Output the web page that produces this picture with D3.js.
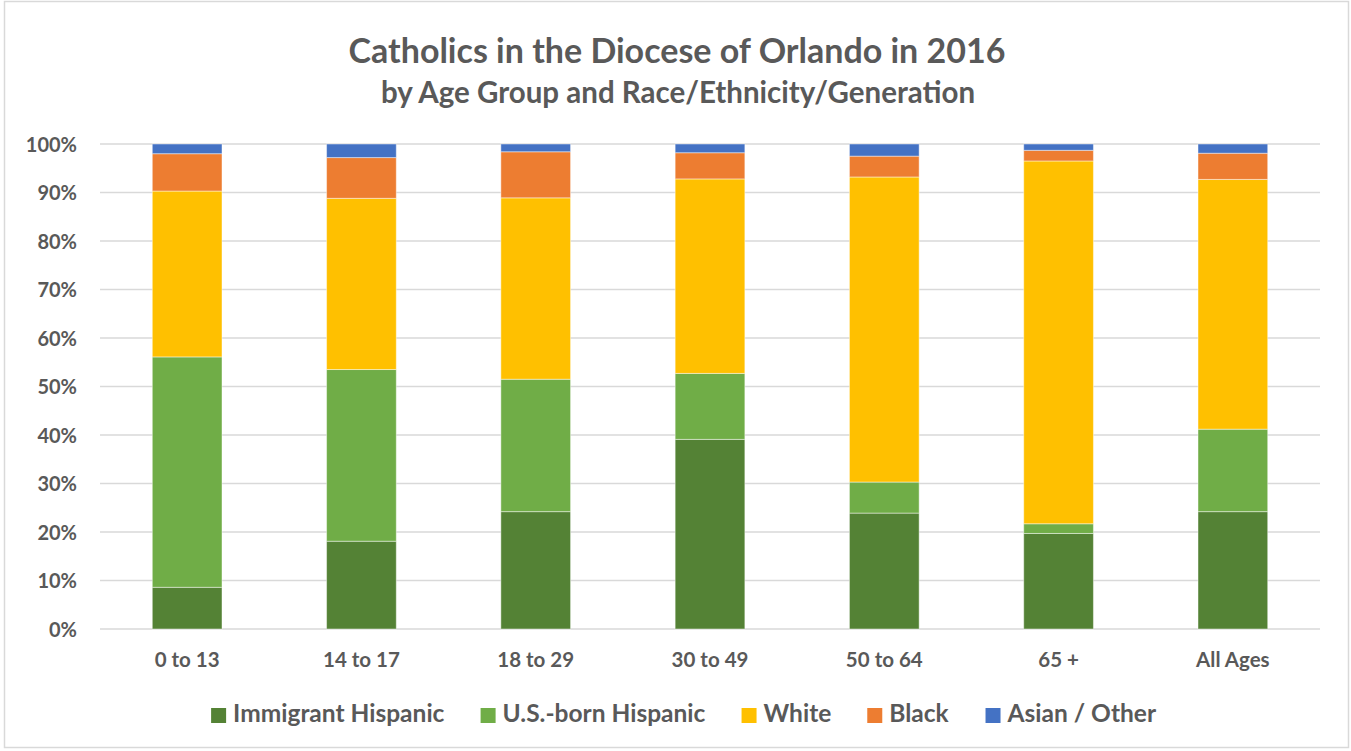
<!DOCTYPE html>
<html>
<head>
<meta charset="utf-8">
<script src="https://cdn.jsdelivr.net/npm/d3@7"></script>
<style>
  body { margin: 0; background: #fff; }
  text { font-family: Lato, "Open Sans", sans-serif; font-weight: bold; fill: #595959; }
</style>
</head>
<body>
<svg id="chart"></svg>
<script>
const ageGroups = ["0 to 13", "14 to 17", "18 to 29", "30 to 49", "50 to 64", "65 +", "All Ages"];
const seriesNames = ["Immigrant Hispanic", "U.S.-born Hispanic", "White", "Black", "Asian / Other"];
const immigrantHispanic = [8.6, 18.1, 24.2, 39.1, 23.9, 19.7, 24.2];
const usBornHispanic = [47.5, 35.4, 27.3, 13.6, 6.4, 2.0, 17.0];
const white = [34.2, 35.3, 37.4, 40.1, 62.9, 74.8, 51.5];
const black = [7.7, 8.4, 9.5, 5.4, 4.3, 2.2, 5.4];
const asianOther = [2.0, 2.8, 1.6, 1.8, 2.5, 1.3, 1.9];
const yTicks = [0, 10, 20, 30, 40, 50, 60, 70, 80, 90, 100];
const colors = ["#548235", "#70ad47", "#ffc000", "#ed7d31", "#4472c4"];

const width = 1351, height = 751;
const margin = {top: 144, right: 31, bottom: 122, left: 100};

const svg = d3.select("#chart")
    .attr("width", width)
    .attr("height", height);

// outer chart frame
svg.append("rect")
    .attr("x", 4.5).attr("y", 1.5)
    .attr("width", 1344).attr("height", 746)
    .style("fill", "#fff")
    .style("stroke", "#d9d9d9")
    .style("stroke-width", "1.5px");

// one row per age group, built from the series arrays
const rows = ageGroups.map((g, i) => ({
    group: g,
    "Immigrant Hispanic": immigrantHispanic[i],
    "U.S.-born Hispanic": usBornHispanic[i],
    "White": white[i],
    "Black": black[i],
    "Asian / Other": asianOther[i]
}));
const stacked = d3.stack().keys(seriesNames)(rows);

const x = d3.scaleBand()
    .domain(ageGroups)
    .range([margin.left, width - margin.right])
    .paddingInner(0.6)
    .paddingOuter(0.3);

const y = d3.scaleLinear()
    .domain([0, 100])
    .range([height - margin.bottom, margin.top]);

// gridlines
svg.append("g")
    .attr("class", "grid")
    .selectAll("line")
    .data(yTicks)
    .join("line")
    .attr("x1", margin.left)
    .attr("x2", width - margin.right)
    .attr("y1", d => y(d))
    .attr("y2", d => y(d))
    .style("stroke", "#d9d9d9")
    .style("stroke-width", "1.5px");

// bars
svg.append("g")
    .selectAll("g")
    .data(stacked)
    .join("g")
    .style("fill", (d, i) => colors[i])
    .selectAll("rect")
    .data(d => d)
    .join("rect")
    .attr("x", d => x(d.data.group))
    .attr("width", x.bandwidth())
    .attr("y", d => y(Math.min(d[1], 100)))
    .attr("height", d => y(d[0]) - y(Math.min(d[1], 100)))
    .style("stroke", "rgba(255,255,255,0.45)")
    .style("stroke-width", "1px");

// y axis
const yAxis = svg.append("g")
    .attr("transform", `translate(${margin.left - 23} 0)`)
    .call(d3.axisLeft(y).tickValues(yTicks).tickFormat(d => d + "%").tickSize(0));
yAxis.select(".domain").remove();
yAxis.selectAll("text")
    .attr("x", 0)
    .attr("dy", "0.35em")
    .style("font-size", "20px")
    .style("fill", "#595959");

// x axis
const xAxis = svg.append("g")
    .attr("transform", `translate(0 ${height - margin.bottom})`)
    .call(d3.axisBottom(x).tickSize(0));
xAxis.select(".domain").remove();
xAxis.selectAll("text")
    .attr("y", 38)
    .attr("dy", 0)
    .style("font-size", "20.5px")
    .style("fill", "#595959");

// titles
svg.append("text")
    .attr("x", 677)
    .attr("y", 63)
    .attr("text-anchor", "middle")
    .style("font-size", "34px")
    .text("Catholics in the Diocese of Orlando in 2016");

svg.append("text")
    .attr("x", 678)
    .attr("y", 103)
    .attr("text-anchor", "middle")
    .style("font-size", "29.5px")
    .text("by Age Group and Race/Ethnicity/Generation");

// legend
const legend = svg.append("g").attr("class", "legend");
const items = legend.selectAll("g")
    .data(seriesNames)
    .join("g");
items.append("rect")
    .attr("width", 15)
    .attr("height", 15)
    .attr("y", -14)
    .style("fill", (d, i) => colors[i]);
items.append("text")
    .attr("x", 22)
    .style("font-size", "24.5px")
    .text(d => d);

let cursor = 0;
const gap = 36;
items.each(function () {
    const w = this.getBBox().width;
    d3.select(this).attr("data-offset", cursor);
    cursor += w + gap;
});
const total = cursor - gap;
items.attr("transform", function () {
    return `translate(${684 - total / 2 + (+this.getAttribute("data-offset"))} 722)`;
});
</script>
</body>
</html>
